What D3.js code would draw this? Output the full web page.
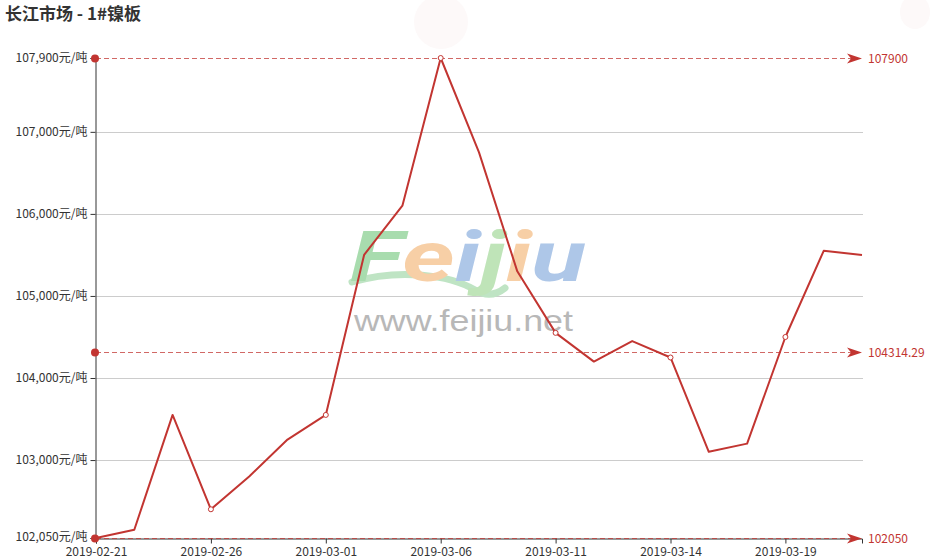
<!DOCTYPE html>
<html><head><meta charset="utf-8">
<script src="https://cdn.jsdelivr.net/npm/d3@7/dist/d3.min.js"></script>
<style>
html,body{margin:0;padding:0;background:#fff;}
svg{display:block;font-family:"Noto Sans CJK SC","Noto Sans",sans-serif;}
</style></head>
<body><svg id="c" width="930" height="560"></svg>
<script>
const titleText = "长江市场 - 1#镍板";
const categories = ["2019-02-21","2019-02-22","2019-02-25","2019-02-26","2019-02-27","2019-02-28","2019-03-01","2019-03-04","2019-03-05","2019-03-06","2019-03-07","2019-03-08","2019-03-11","2019-03-12","2019-03-13","2019-03-14","2019-03-15","2019-03-18","2019-03-19","2019-03-20","2019-03-21"];
const prices = [102050,102150,103550,102400,102800,103250,103550,105500,106100,107900,106750,105300,104550,104200,104450,104250,103100,103200,104500,105550,105500];
const yTicks = [102050,103000,104000,105000,106000,107000,107900];
const yUnit = "元/吨";
const labelEvery = 3;
const markValues = [
  {name:"max", value: d3.max(prices), label:"107900"},
  {name:"average", value: d3.mean(prices), label:"104314.29"},
  {name:"min", value: d3.min(prices), label:"102050"}
];
const watermarkLetters = ["F","e","i","j","i","u"];
const watermarkColors = ["#a8dcae","#f7cfa6","#aec7e8","#bfe4b8","#f7cfa6","#aec7e8"];
const watermarkUrl = "www.feijiu.net";

(function(){
const svg = d3.select("#c");
const pL = 96, pR = 862, pT = 58, pB = 538;
const red = "#c23531";

const x = d3.scalePoint().domain(categories).range([pL, pR]);
const y = d3.scaleLinear().domain([d3.min(yTicks), d3.max(yTicks)]).range([pB, pT]);

// title
svg.append("text").attr("x",5).attr("y",20).text(titleText)
  .attr("font-size",17).attr("font-weight","bold").attr("fill","#333");

// faint background blobs
svg.append("ellipse").attr("cx",441).attr("cy",22).attr("rx",27).attr("ry",27).attr("fill","#fdf9f9");
svg.append("ellipse").attr("cx",915).attr("cy",12).attr("rx",15).attr("ry",17).attr("fill","#fdf9f9");

// gridlines
svg.append("g").selectAll("line").data(yTicks.slice(1,-1)).join("line")
  .attr("x1",pL).attr("x2",pR+1).attr("y1",d=>Math.round(y(d))+0.5).attr("y2",d=>Math.round(y(d))+0.5)
  .attr("stroke","#ccc").attr("stroke-width",1);

// watermark
const wm = svg.append("g");
wm.append("path").attr("d","M352,282 C400,268 450,275 475,290 C485,296 495,296 505,288")
  .attr("fill","none").attr("stroke","#bfe4c4").attr("stroke-width",7).attr("stroke-linecap","round");
const wmText = wm.append("text").attr("x",350).attr("y",281).attr("font-size",70)
  .attr("font-weight","bold").attr("font-style","italic").attr("font-family","Roboto, 'DejaVu Sans', sans-serif")
  .attr("textLength",236).attr("lengthAdjust","spacingAndGlyphs");
wmText.selectAll("tspan").data(watermarkLetters).join("tspan").text(d=>d).attr("fill",(d,i)=>watermarkColors[i]);
wm.append("text").attr("x",354).attr("y",331).attr("font-size",29).attr("fill","#b8b8b8")
  .attr("font-family","Arial, 'Liberation Sans', sans-serif").attr("textLength",219).attr("lengthAdjust","spacingAndGlyphs")
  .text(watermarkUrl);

// y axis
const yAxis = svg.append("g").attr("transform",`translate(${pL-0.5},0)`)
  .call(d3.axisLeft(y).tickValues(yTicks).tickSize(5).tickPadding(3).tickFormat(d=>d3.format(",")(d)+yUnit));
yAxis.select(".domain").attr("stroke","#333");
yAxis.selectAll(".tick line").attr("stroke","#333");
yAxis.selectAll(".tick text").attr("font-size",12).attr("fill","#333").attr("font-family","'Noto Sans CJK SC',sans-serif");
yAxis.selectAll(".tick text").filter(d=>d===d3.min(yTicks)).attr("dy","0.2em");

// x axis
const xAxis = svg.append("g").attr("transform",`translate(0,${pB+0.5})`)
  .call(d3.axisBottom(x).tickValues(categories.filter((d,i)=>i%labelEvery===0)).tickSize(5).tickPadding(4));
xAxis.select(".domain").attr("stroke","#333");
xAxis.selectAll(".tick line").attr("stroke","#333");
xAxis.selectAll(".tick text").attr("font-size",12).attr("fill","#333").attr("font-family","'Noto Sans CJK SC',sans-serif");

// mark lines
const ml = svg.append("g");
markValues.forEach(m=>{
  const yy = Math.round(y(m.value))+0.5;
  ml.append("line").attr("x1",pL).attr("x2",pR-8).attr("y1",yy).attr("y2",yy)
    .attr("stroke",red).attr("stroke-opacity",0.75).attr("stroke-dasharray","5,3").attr("stroke-width",1);
  ml.append("path").attr("d",`M${pR},${yy} L${pR-15},${yy-5} L${pR-11},${yy} L${pR-15},${yy+5} Z`).attr("fill",red);
  ml.append("circle").attr("cx",pL-1).attr("cy",yy).attr("r",4).attr("fill",red);
  ml.append("text").attr("x",pR+6).attr("y",yy+4).attr("font-size",12).attr("fill",red)
    .attr("font-family","'Noto Sans CJK SC',sans-serif").text(m.label);
});

// series line
svg.append("path").datum(prices)
  .attr("d",d3.line().x((d,i)=>x(categories[i])).y(d=>y(d)))
  .attr("fill","none").attr("stroke",red).attr("stroke-width",2).attr("stroke-linejoin","round");

// symbols at labelled points
svg.append("g").selectAll("circle").data(prices.map((v,i)=>({v,i})).filter(d=>d.i%labelEvery===0 && d.i>0)).join("circle")
  .attr("cx",d=>x(categories[d.i])).attr("cy",d=>y(d.v)).attr("r",2.5)
  .attr("fill","#fff").attr("stroke",red).attr("stroke-width",1);
})();
</script></body></html>
